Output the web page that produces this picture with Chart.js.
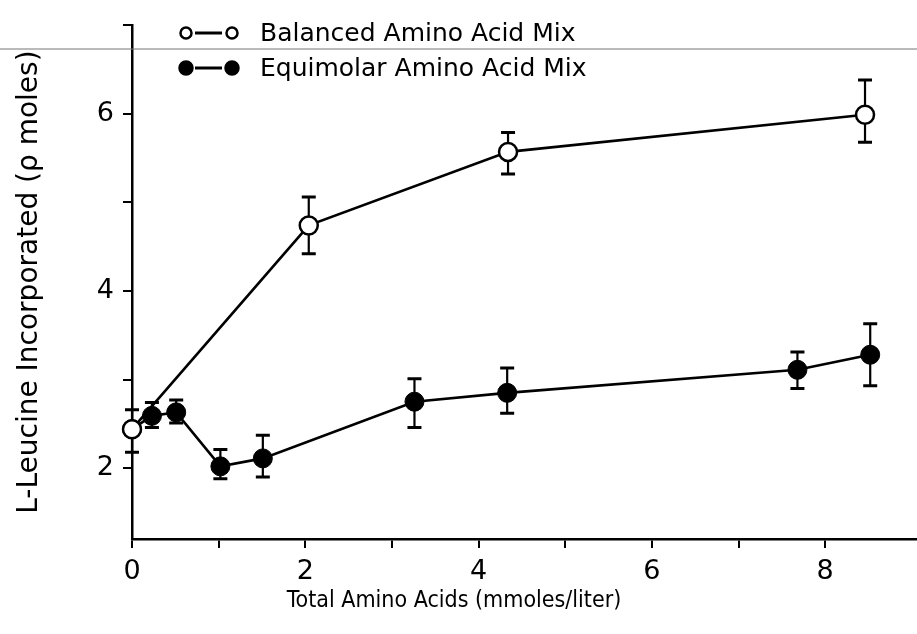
<!DOCTYPE html>
<html>
<head>
<meta charset="utf-8">
<title>L-Leucine incorporation</title>
<script src="https://cdn.jsdelivr.net/npm/chart.js@4.4.0/dist/chart.umd.min.js"></script>
<style>
  html, body { margin: 0; padding: 0; background: #fff; }
  #chart { display: block; }
</style>
</head>
<body>
<canvas id="chart" width="917" height="634"></canvas>
<script>
/**
 * Series data (total amino acids in mmoles/liter vs. pmoles incorporated).
 */
const balancedX = [0, 2.04, 4.34, 8.46];
const balancedY = [2.44, 4.74, 5.57, 5.99];
const balancedLow = [2.18, 4.42, 5.32, 5.68];
const balancedHigh = [2.66, 5.06, 5.79, 6.38];

const equimolarX = [0, 0.23, 0.51, 1.02, 1.51, 3.26, 4.33, 7.68, 8.52];
const equimolarY = [2.44, 2.59, 2.63, 2.02, 2.11, 2.75, 2.85, 3.11, 3.28];
const equimolarLow = [null, 2.46, 2.51, 1.88, 1.90, 2.46, 2.62, 2.90, 2.93];
const equimolarHigh = [null, 2.74, 2.77, 2.21, 2.37, 3.01, 3.13, 3.31, 3.63];

const xTickValues = [0, 1, 2, 3, 4, 5, 6, 7, 8];
const xLabelValues = [0, 2, 4, 6, 8];
const yTickValues = [2, 3, 4, 5, 6, 7];
const yLabelValues = [2, 4, 6];

const seriesLabels = ['Balanced Amino Acid Mix', 'Equimolar Amino Acid Mix'];
const xTitle = 'Total Amino Acids (mmoles/liter)';
const yTitle = 'L-Leucine Incorporated (\u03c1 moles)';

const FONT = 'DejaVu Sans';

/**
 * Build point objects carrying their error range.
 */
const toPoints = (xs, ys, lows, highs) => xs.map((x, i) => ({
  x,
  y: ys[i],
  low: lows[i],
  high: highs[i],
}));

/**
 * Error bars, drawn under the markers.
 */
const errorBars = {
  id: 'errorBars',
  beforeDatasetsDraw(chart) {
    const { ctx, scales: { x, y } } = chart;
    ctx.save();
    ctx.strokeStyle = '#000';
    chart.data.datasets.forEach((ds) => {
      ds.data.forEach((pt) => {
        if (pt.low == null) return;
        const px = x.getPixelForValue(pt.x);
        const top = y.getPixelForValue(pt.high);
        const bottom = y.getPixelForValue(pt.low);
        ctx.lineWidth = 2.2;
        ctx.beginPath();
        ctx.moveTo(px, top);
        ctx.lineTo(px, bottom);
        ctx.stroke();
        ctx.lineWidth = 3;
        ctx.beginPath();
        ctx.moveTo(px - 7, top);
        ctx.lineTo(px + 7, top);
        ctx.moveTo(px - 7, bottom);
        ctx.lineTo(px + 7, bottom);
        ctx.stroke();
      });
    });
    ctx.restore();
  },
};

/**
 * Key in the top left (marker, dash, marker, label), the x caption
 * and the thin gray rule across the top.
 */
const annotations = {
  id: 'annotations',
  afterDraw(chart) {
    const { ctx, chartArea } = chart;
    const rows = [33, 68];
    ctx.save();
    chart.data.datasets.forEach((ds, i) => {
      const yPos = rows[i];
      const filled = ds.pointBackgroundColor === '#000';
      const r = filled ? 6.5 : 5.5;
      ctx.strokeStyle = '#000';
      ctx.fillStyle = filled ? '#000' : '#fff';
      ctx.lineWidth = 2.5;
      [186, 232].forEach((cx) => {
        ctx.beginPath();
        ctx.arc(cx, yPos, r, 0, Math.PI * 2);
        ctx.fill();
        ctx.stroke();
      });
      ctx.lineWidth = 3;
      ctx.beginPath();
      ctx.moveTo(195, yPos);
      ctx.lineTo(222, yPos);
      ctx.stroke();
      ctx.fillStyle = '#000';
      ctx.font = `25px "${FONT}"`;
      ctx.textAlign = 'left';
      ctx.textBaseline = 'middle';
      ctx.fillText(ds.label, 260, yPos + 1);
    });

    // x caption, set a little left of the plot centre
    ctx.fillStyle = '#000';
    ctx.font = `23px "DejaVu Sans Condensed", "${FONT}"`;
    ctx.textAlign = 'center';
    ctx.textBaseline = 'middle';
    ctx.fillText(xTitle, chartArea.left + 322, chartArea.bottom + 62);

    ctx.strokeStyle = '#777';
    ctx.lineWidth = 1.2;
    ctx.beginPath();
    ctx.moveTo(0, 49);
    ctx.lineTo(chart.width, 49);
    ctx.stroke();
    ctx.restore();
  },
};

const axisBase = {
  type: 'linear',
  grid: {
    drawOnChartArea: false,
    drawTicks: true,
    tickLength: 9,
    color: '#000',
    lineWidth: 2,
  },
  border: { display: true, color: '#000', width: 2.5 },
};

const chart = new Chart(document.getElementById('chart'), {
  type: 'scatter',
  data: {
    datasets: [
      {
        label: seriesLabels[0],
        data: toPoints(balancedX, balancedY, balancedLow, balancedHigh),
        showLine: true,
        borderColor: '#000',
        borderWidth: 2.6,
        pointRadius: 9,
        pointBorderWidth: 2.5,
        pointBorderColor: '#000',
        pointBackgroundColor: '#fff',
        clip: false,
        order: 0,
      },
      {
        label: seriesLabels[1],
        data: toPoints(equimolarX, equimolarY, equimolarLow, equimolarHigh),
        showLine: true,
        borderColor: '#000',
        borderWidth: 2.6,
        pointRadius: 9.5,
        pointBorderWidth: 1,
        pointBorderColor: '#000',
        pointBackgroundColor: '#000',
        clip: false,
        order: 1,
      },
    ],
  },
  options: {
    responsive: false,
    animation: false,
    layout: { autoPadding: false, padding: { top: 14, right: 0, left: 0, bottom: 0 } },
    plugins: {
      legend: { display: false },
      tooltip: { enabled: false },
    },
    scales: {
      x: {
        ...axisBase,
        min: 0,
        max: 9.06,
        afterBuildTicks: (axis) => { axis.ticks = xTickValues.map((value) => ({ value })); },
        afterFit: (axis) => { axis.height = 95; },
        ticks: {
          color: '#000',
          padding: 8,
          maxRotation: 0,
          autoSkip: false,
          font: { family: FONT, size: 27 },
          callback: (v) => (xLabelValues.includes(v) ? String(v) : ''),
        },
      },
      y: {
        ...axisBase,
        min: 1.2,
        max: 7,
        afterBuildTicks: (axis) => { axis.ticks = yTickValues.map((value) => ({ value })); },
        afterFit: (axis) => { axis.width = 132; },
        ticks: {
          color: '#000',
          padding: 9,
          autoSkip: false,
          font: { family: FONT, size: 27 },
          callback: (v) => (yLabelValues.includes(v) ? String(v) : ''),
        },
        title: {
          display: true,
          text: yTitle,
          color: '#000',
          font: { family: FONT, size: 28 },
          padding: { top: 13, bottom: 0 },
        },
      },
    },
  },
  plugins: [errorBars, annotations],
});
</script>
</body>
</html>
